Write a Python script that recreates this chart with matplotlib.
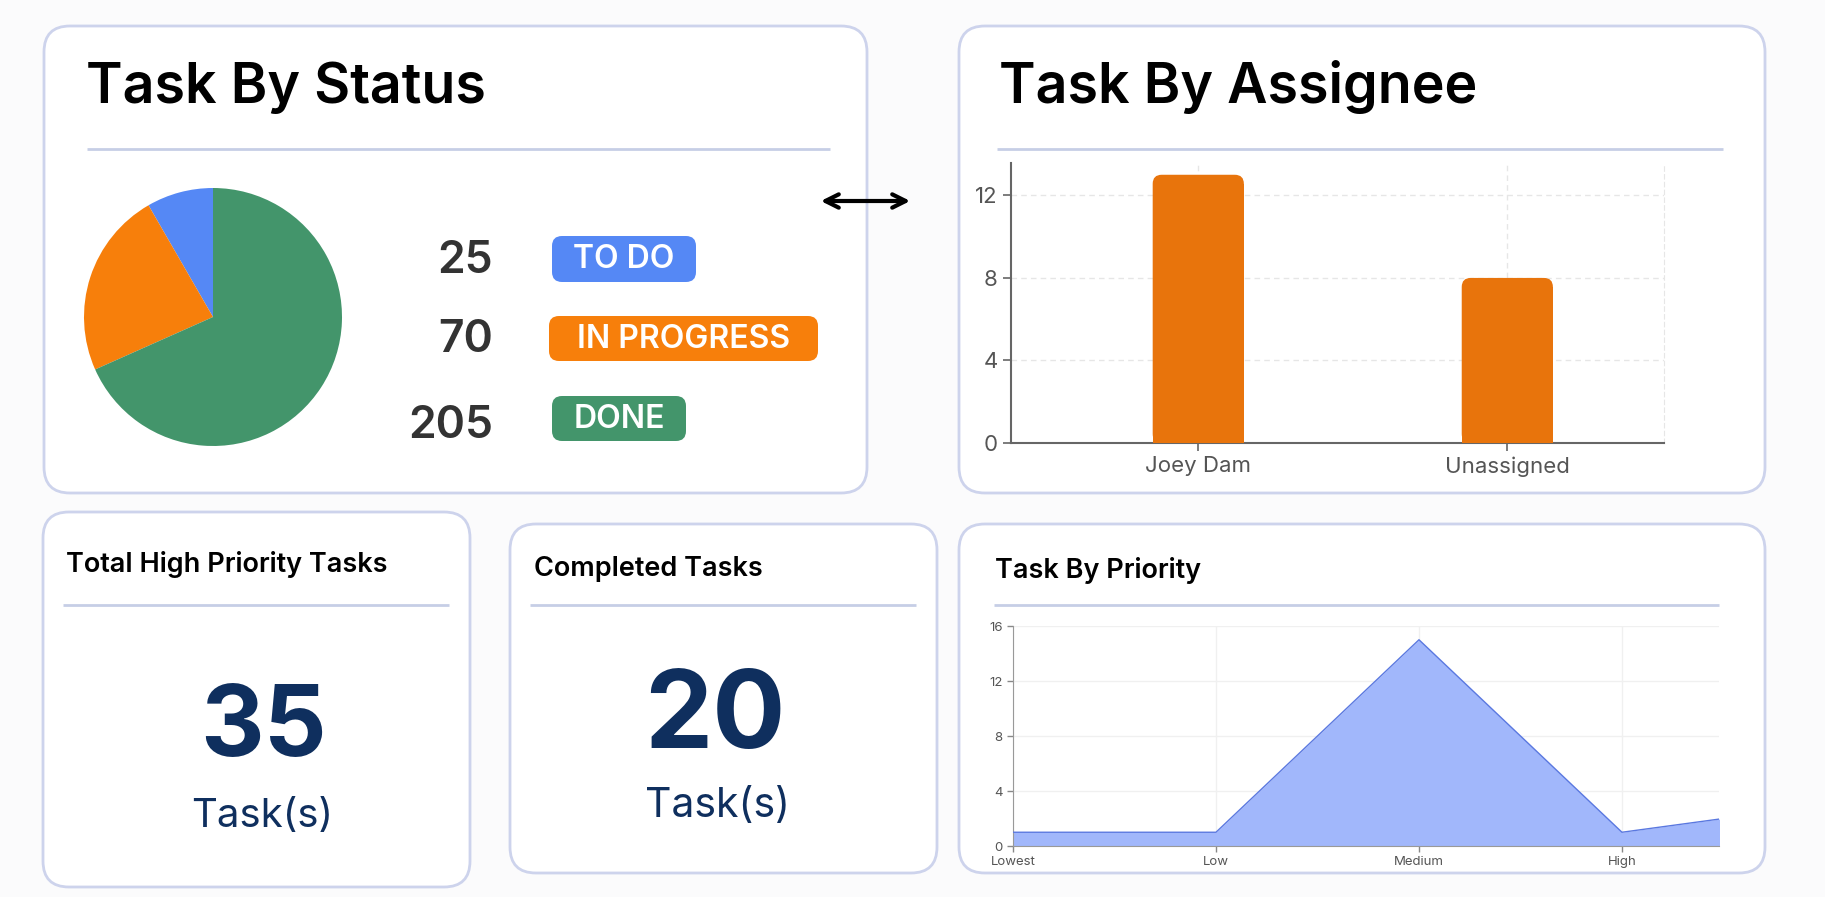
import matplotlib.pyplot as plt
from matplotlib.patches import FancyBboxPatch
import numpy as np

W, H = 1825, 897
plt.rcParams['font.family'] = ['Inter', 'DejaVu Sans']

# data
status_labels = ["TO DO", "IN PROGRESS", "DONE"]
status_counts = [25, 70, 205]
status_colors = ["#5588f5", "#f77f0b", "#43956b"]

assignees = ["Joey Dam", "Unassigned"]
assignee_counts = [13, 8]

priorities = ["Lowest", "Low", "Medium", "High", "Highest"]
priority_counts = [1, 1, 15, 1, 3]

high_priority_total = 35
completed_total = 20

navy = "#0f2f5e"
border = "#cdd3ec"
sep = "#c6cee6"

fig = plt.figure(figsize=(W / 100, H / 100), dpi=100)
fig.patch.set_facecolor("#fbfbfc")

# background axes in pixel units (y down)
bg = fig.add_axes([0, 0, 1, 1])
bg.set_xlim(0, W)
bg.set_ylim(H, 0)
bg.axis("off")


def card(x0, y0, x1, y1):
    bg.add_patch(FancyBboxPatch((x0, y0), x1 - x0, y1 - y0,
                                boxstyle="round,pad=0,rounding_size=26",
                                fc="white", ec=border, lw=2))


def hline(y, x0, x1):
    bg.plot([x0, x1], [y, y], color=sep, lw=2, solid_capstyle="butt")


def px_axes(x0, y0, x1, y1):
    return fig.add_axes([x0 / W, 1 - y1 / H, (x1 - x0) / W, (y1 - y0) / H])


card(44, 26, 867, 493)
card(959, 26, 1765, 493)
card(43, 512, 470, 887)
card(510, 524, 937, 873)
card(959, 524, 1765, 873)

# titles
bg.text(86, 103, "Task By Status", fontsize=40, fontweight="semibold", va="baseline")
bg.text(999, 103, "Task By Assignee", fontsize=40, fontweight="semibold", va="baseline")
hline(149, 87, 830)
hline(149, 997, 1723)

bg.text(66, 572, "Total High Priority Tasks", fontsize=19.5, fontweight="semibold", va="baseline")
bg.text(534, 576, "Completed Tasks", fontsize=19.5, fontweight="semibold", va="baseline")
bg.text(995, 578, "Task By Priority", fontsize=19.5, fontweight="semibold", va="baseline")
hline(605, 63, 449)
hline(605, 530, 916)
hline(605, 994, 1719)

# status counts and badges
baselines = [273, 352, 438]
boxes = [(552, 236, 696, 282), (549, 316, 818, 361), (552, 396, 686, 441)]
for lab, cnt, col, yb, (x0, y0, x1, y1) in zip(status_labels, status_counts,
                                                 status_colors, baselines, boxes):
    bg.text(493, yb, str(cnt), fontsize=32, fontweight="semibold", color="#333333",
            ha="right", va="baseline")
    bg.add_patch(FancyBboxPatch((x0, y0), x1 - x0, y1 - y0,
                                boxstyle="round,pad=0,rounding_size=10",
                                fc=col, ec="none"))
    bg.text((x0 + x1) / 2, (y0 + y1) / 2 + 1, lab, fontsize=23, fontweight="semibold",
            color="white", ha="center", va="center")

# arrow between cards
bg.annotate("", xy=(913, 201), xytext=(818, 201),
            arrowprops=dict(arrowstyle="<->", lw=3, color="black", mutation_scale=24))

# pie
axp = px_axes(84, 188, 342, 446)
axp.pie(status_counts, colors=status_colors, startangle=90, counterclock=True,
        wedgeprops=dict(linewidth=0))
axp.set_xlim(-1, 1)
axp.set_ylim(-1, 1)
axp.set_aspect("equal")

# assignee bar chart
axb = px_axes(1011, 163, 1664, 443)
axb.set_facecolor("none")
x = np.arange(len(assignees))
xl = (-0.606, 1.507)
yl = (0, 13.57)
axb.set_xlim(*xl)
axb.set_ylim(*yl)
bw = 0.295
r_px = 9
ux = (xl[1] - xl[0]) / (1664 - 1011)
uy = (yl[1] - yl[0]) / (443 - 163)
bars = axb.bar(x, np.array(assignee_counts) - r_px * uy, width=bw, color="#e8740c", zorder=3)
for b, v in zip(bars, assignee_counts):
    axb.add_patch(FancyBboxPatch((b.get_x(), 0), b.get_width(), v,
                                 boxstyle=f"round,pad=0,rounding_size={r_px * ux}",
                                 mutation_aspect=uy / ux, fc="#e8740c", ec="none", zorder=3))
axb.set_xticks(x)
axb.set_xticklabels(assignees)
axb.set_yticks([0, 4, 8, 12])
axb.tick_params(colors="#666666", labelcolor="#555555", labelsize=16, length=6, width=1.2)
axb.spines["top"].set_visible(False)
axb.spines["right"].set_color("#e6e6e6")
axb.spines["right"].set_linestyle((0, (4, 3)))
for s in ["left", "bottom"]:
    axb.spines[s].set_color("#666666")
    axb.spines[s].set_linewidth(1.5)
axb.grid(True, color="#e6e6e6", linestyle=(0, (4, 3)), lw=1, zorder=0)
axb.set_axisbelow(True)

# priority area chart
axa = px_axes(1013, 626, 1719, 846)
axa.set_facecolor("none")
xp = np.arange(len(priorities))
axa.fill_between(xp, priority_counts, color="#a1b7fb", lw=0, zorder=2)
axa.plot(xp, priority_counts, color="#5a78e0", lw=1, zorder=3)
axa.set_xlim(0, 3.478)
axa.set_ylim(0, 16)
axa.set_xticks(xp[:4])
axa.set_xticklabels(priorities[:4])
axa.set_yticks([0, 4, 8, 12, 16])
axa.tick_params(colors="#888888", labelcolor="#555555", labelsize=9.5, length=4, width=1)
for s in ["top", "right"]:
    axa.spines[s].set_visible(False)
for s in ["left", "bottom"]:
    axa.spines[s].set_color("#999999")
axa.grid(True, color="#f0f0f0", lw=1, zorder=0)
axa.set_axisbelow(True)

# KPI numbers
bg.text(263, 756, str(high_priority_total), fontsize=71, fontweight="bold", color=navy,
        ha="center", va="baseline")
bg.text(262, 827, "Task(s)", fontsize=29, color=navy, ha="center", va="baseline")
bg.text(715, 748, str(completed_total), fontsize=78, fontweight="bold", color=navy,
        ha="center", va="baseline")
bg.text(718, 817, "Task(s)", fontsize=29.5, color=navy, ha="center", va="baseline")

fig.savefig("out.png", dpi=100, facecolor=fig.get_facecolor())
